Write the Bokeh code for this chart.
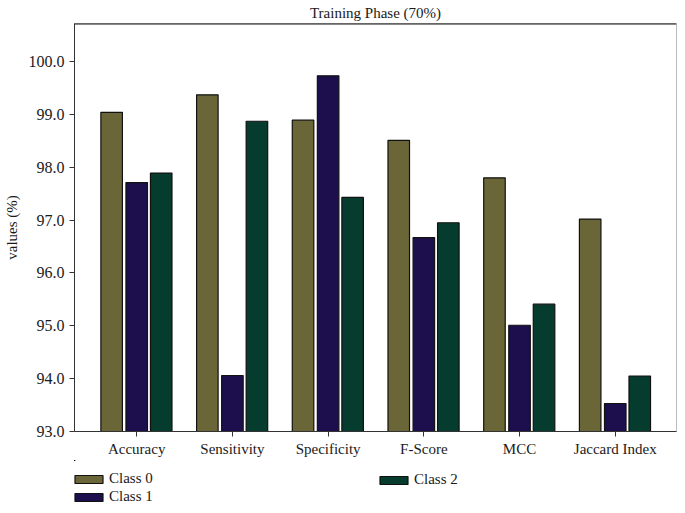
from bokeh.plotting import figure
from bokeh.models import (Range1d, FixedTicker, Legend, LegendItem, Span,
                          ColumnDataSource)
from bokeh.layouts import column
from bokeh.embed import file_html
from bokeh.resources import INLINE

# ---- data ----
metrics = ["Accuracy", "Sensitivity", "Specificity", "F-Score", "MCC", "Jaccard Index"]
class0 = [99.04, 99.37, 98.89, 98.51, 97.80, 97.02]
class1 = [97.71, 94.06, 99.73, 96.67, 95.01, 93.53]
class2 = [97.89, 98.87, 97.43, 96.95, 95.41, 94.05]
series_names = ["Class 0", "Class 1", "Class 2"]
y_ticks = [93.0, 94.0, 95.0, 96.0, 97.0, 98.0, 99.0, 100.0]

# ---- style ----
colors = ["#6b6637", "#1d0f4d", "#063c2e"]
offsets = [-0.262, 0.0, 0.256]
bar_width = 0.225
FONT = "Liberation Serif"
base = 93.0
W = 677
H_MAIN = 460
H_LEG = 45

p = figure(width=W, height=H_MAIN, output_backend="svg", toolbar_location=None,
           x_range=Range1d(-0.65, 5.64), y_range=Range1d(93.0, 100.72),
           min_border_left=74, min_border_right=1, min_border_top=22,
           min_border_bottom=29)

p.title.text = "Training Phase (70%)"
p.title.text_font = FONT
p.title.text_font_style = "normal"
p.title.text_font_size = "15px"
p.title.text_color = "#1a1a1a"
p.title.align = "center"
p.title.standoff = 5

sources = {}
for vals, name, col, off in zip([class0, class1, class2], series_names, colors, offsets):
    src = ColumnDataSource(dict(x=[i + off for i in range(len(metrics))],
                                top=vals, bottom=[base] * len(vals)))
    sources[name] = src
    p.vbar(x="x", top="top", bottom="bottom", width=bar_width, source=src,
           fill_color=col, line_color="#111111", line_width=1.2)

p.xgrid.grid_line_color = None
p.ygrid.grid_line_color = None

p.outline_line_color = "#bbbbbb"
p.outline_line_width = 1
p.add_layout(Span(location=100.72, dimension="width", line_color="#111111", line_width=2))

xa = p.xaxis[0]
xa.ticker = FixedTicker(ticks=list(range(len(metrics))))
xa.major_label_overrides = {i: m for i, m in enumerate(metrics)}
xa.major_label_text_font = FONT
xa.major_label_text_font_size = "15px"
xa.major_label_text_color = "#1a1a1a"
xa.axis_line_color = "#333333"
xa.major_tick_line_color = "#333333"
xa.major_tick_in = 0
xa.major_tick_out = 5
xa.minor_tick_line_color = None
xa.major_label_standoff = 4

ya = p.yaxis[0]
ya.ticker = FixedTicker(ticks=y_ticks)
ya.major_label_overrides = {t: f"{t:.1f}" for t in y_ticks}
ya.major_label_text_font = FONT
ya.major_label_text_font_size = "16px"
ya.major_label_text_color = "#1a1a1a"
ya.axis_line_color = "#333333"
ya.major_tick_line_color = "#333333"
ya.major_tick_in = 0
ya.major_tick_out = 5
ya.minor_tick_line_color = None
ya.major_label_standoff = 5
ya.axis_label = "values (%)"
ya.axis_label_text_font = FONT
ya.axis_label_text_font_style = "normal"
ya.axis_label_text_font_size = "15px"
ya.axis_label_text_color = "#1a1a1a"
ya.axis_label_standoff = 6

# ---- legend strip below the chart (its bars lie outside its visible range) ----
pl = figure(width=W, height=H_LEG, output_backend="svg", toolbar_location=None,
            x_range=Range1d(100, 101), y_range=Range1d(0, 1), min_border=0,
            x_axis_location=None, y_axis_location=None)
pl.outline_line_color = None
pl.xgrid.grid_line_color = None
pl.ygrid.grid_line_color = None
leg_r = {}
for name, col in zip(series_names, colors):
    leg_r[name] = pl.vbar(x="x", top="top", bottom="bottom", width=bar_width,
                          source=sources[name], fill_color=col,
                          line_color="#111111", line_width=1.2)


def make_legend(names, loc):
    lg = Legend(items=[LegendItem(label=n, renderers=[leg_r[n]]) for n in names],
                location=loc, orientation="vertical")
    lg.label_text_font = FONT
    lg.label_text_font_size = "15px"
    lg.label_text_color = "#1a1a1a"
    lg.glyph_width = 35
    lg.glyph_height = 10
    lg.label_height = 12
    lg.label_standoff = 3
    lg.spacing = 1
    lg.padding = 0
    lg.margin = 0
    lg.border_line_color = None
    lg.background_fill_alpha = 0
    return lg


pl.add_layout(make_legend(["Class 0", "Class 1"], (-3, 0)), "center")
pl.add_layout(make_legend(["Class 2"], (302, 17)), "center")

layout = column(p, pl, spacing=0)
open("out.html", "w").write(file_html(layout, INLINE))
